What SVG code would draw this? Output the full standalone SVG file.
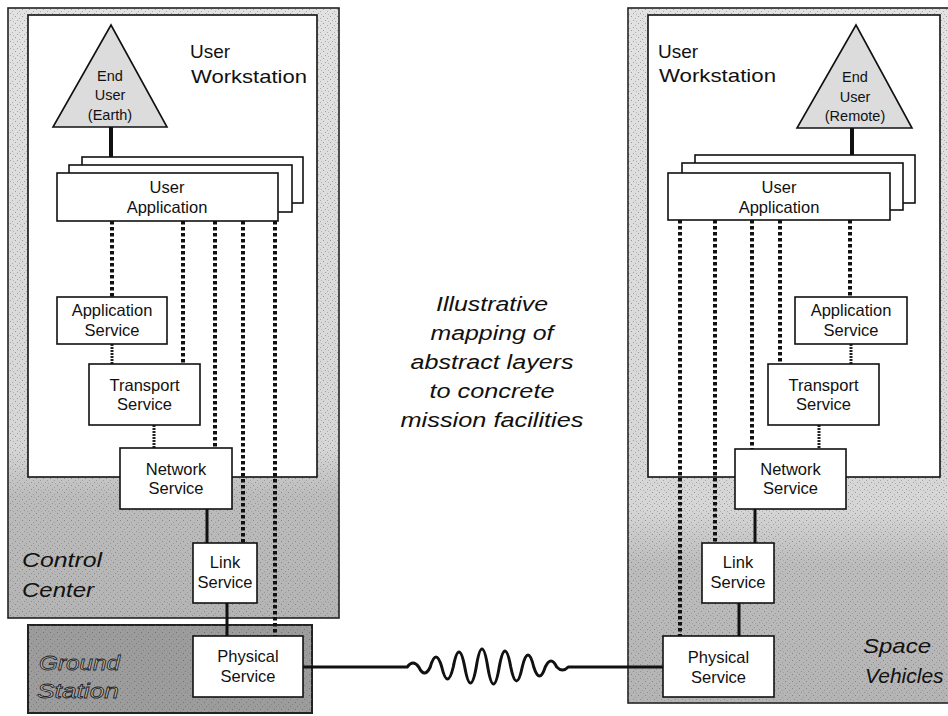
<svg xmlns="http://www.w3.org/2000/svg" width="948" height="716" viewBox="0 0 948 716">
<defs>
<style>
.box{fill:#fff;stroke:#111;stroke-width:1.6}
.tri{fill:#dcdcdc;stroke:#111;stroke-width:1.6}
.lbl{font-family:"Liberation Sans",Arial,sans-serif;font-size:16.5px;fill:#111;text-anchor:middle}
.tl{font-family:"Liberation Sans",Arial,sans-serif;font-size:14.5px;fill:#111;text-anchor:middle}
.big{font-family:"Liberation Sans",Arial,sans-serif;font-size:19px;fill:#111}
.ital{font-family:"Liberation Sans",Arial,sans-serif;font-style:italic;font-size:21px;fill:#111}
.mid{font-family:"Liberation Sans",Arial,sans-serif;font-style:italic;font-size:19.5px;fill:#111;text-anchor:middle}
.dot{stroke:#111;stroke-width:4;stroke-dasharray:3.5 2.5;fill:none}
.tex{stroke:#222;stroke-width:3;stroke-dasharray:2 1;fill:none}
.solid{stroke:#111;stroke-width:3;fill:none}
.thick{stroke:#111;stroke-width:4;fill:none}
.panel{stroke:#222;stroke-width:1.6}
</style>
<linearGradient id="gpanel" x1="0" y1="0" x2="0" y2="1">
<stop offset="0" stop-color="#e2e2e2"/>
<stop offset="0.72" stop-color="#d6d6d6"/>
<stop offset="0.8" stop-color="#bcbcbc"/>
<stop offset="1" stop-color="#b4b4b4"/>
</linearGradient>
<pattern id="stip" width="7" height="7" patternUnits="userSpaceOnUse">
<rect x="1" y="2" width="1" height="1" fill="#555"/>
<rect x="5" y="4" width="1" height="1" fill="#777"/>
<rect x="3" y="6" width="1" height="1" fill="#666"/>
<rect x="6" y="0" width="1" height="1" fill="#888"/>
</pattern>
</defs>
<rect width="948" height="716" fill="#fff"/>

<g id="control-center">
<rect class="panel" x="8" y="8" width="331" height="610" fill="url(#gpanel)"/>
<rect x="8" y="8" width="331" height="610" fill="url(#stip)" opacity="0.5"/>
<rect class="box" x="28" y="15" width="289" height="462"/>
<text class="big" x="190" y="58">User</text>
<text class="big" x="191" y="83" textLength="116" lengthAdjust="spacingAndGlyphs">Workstation</text>
<text class="ital" x="22" y="567" textLength="80" lengthAdjust="spacingAndGlyphs">Control</text>
<text class="ital" x="22" y="597" textLength="72" lengthAdjust="spacingAndGlyphs">Center</text>
</g>

<g id="ground-station">
<rect x="28" y="625" width="284" height="88" fill="#9c9c9c" stroke="#222" stroke-width="2"/>
<rect x="28" y="625" width="284" height="88" fill="url(#stip)" opacity="0.6"/>
<text class="ital" x="39" y="670" textLength="81" lengthAdjust="spacingAndGlyphs" style="fill:#bdbdbd;stroke:#222;stroke-width:0.8">Ground</text>
<text class="ital" x="37" y="698" textLength="82" lengthAdjust="spacingAndGlyphs" style="fill:#bdbdbd;stroke:#222;stroke-width:0.8">Station</text>
</g>

<g id="space-vehicle">
<rect class="panel" x="628" y="8" width="340" height="695" fill="url(#gpanel)"/>
<rect x="628" y="8" width="340" height="695" fill="url(#stip)" opacity="0.5"/>
<rect class="box" x="648" y="15" width="292" height="462"/>
<text class="big" x="658" y="58">User</text>
<text class="big" x="659" y="82" textLength="117" lengthAdjust="spacingAndGlyphs">Workstation</text>
<text class="ital" x="863" y="653" textLength="68" lengthAdjust="spacingAndGlyphs">Space</text>
<text class="ital" x="865" y="683">Vehicles</text>
</g>

<g id="caption">
<text class="mid" x="492" y="311" textLength="112" lengthAdjust="spacingAndGlyphs">Illustrative</text>
<text class="mid" x="492" y="340" textLength="123" lengthAdjust="spacingAndGlyphs">mapping of</text>
<text class="mid" x="492" y="369" textLength="163" lengthAdjust="spacingAndGlyphs">abstract layers</text>
<text class="mid" x="492" y="398" textLength="125" lengthAdjust="spacingAndGlyphs">to concrete</text>
<text class="mid" x="492" y="427" textLength="183" lengthAdjust="spacingAndGlyphs">mission facilities</text>
</g>

<g id="connectors">
<line class="thick" x1="111" y1="127" x2="111" y2="157"/>
<line class="thick" x1="852" y1="128" x2="852" y2="155"/>
<line class="dot" x1="112" y1="221" x2="112" y2="297"/>
<line class="dot" x1="183" y1="221" x2="183" y2="364"/>
<line class="dot" x1="215" y1="221" x2="215" y2="448"/>
<line class="dot" x1="243" y1="221" x2="243" y2="543"/>
<line class="dot" x1="275" y1="221" x2="275" y2="636"/>
<line class="dot" x1="680" y1="220" x2="680" y2="636"/>
<line class="dot" x1="715" y1="220" x2="715" y2="543"/>
<line class="dot" x1="752" y1="220" x2="752" y2="449"/>
<line class="dot" x1="780" y1="220" x2="780" y2="364"/>
<line class="dot" x1="850" y1="220" x2="850" y2="297"/>
<line class="tex" x1="112" y1="344" x2="112" y2="364"/>
<line class="tex" x1="154" y1="425" x2="154" y2="448"/>
<line class="solid" x1="207" y1="509" x2="207" y2="543"/>
<line class="solid" x1="227" y1="603" x2="227" y2="636"/>
<line class="tex" x1="851" y1="344" x2="851" y2="364"/>
<line class="tex" x1="819" y1="425" x2="819" y2="449"/>
<line class="solid" x1="755" y1="509" x2="755" y2="543"/>
<line class="solid" x1="739" y1="603" x2="739" y2="636"/>
<path class="solid" stroke-linejoin="round" d="M303 667 L407.25 667 Q413 659 418.75 667 Q424.5 679 430.25 667 Q436 647 441.75 667 Q447.5 691 453.25 667 Q459 637 464.75 667 Q470.5 699 476.25 667 Q482 631 487.75 667 Q493.5 701 499.25 667 Q505 635 510.75 667 Q516.5 695 522.25 667 Q528 643 533.75 667 Q539.5 685 545.25 667 Q551 655 556.75 667 Q562.5 673 568.25 667 L663 667"/>
</g>

<g id="end-user-earth">
<polygon class="tri" points="111,25 53,127 167,127"/>
<text class="tl" x="110" y="81">End</text>
<text class="tl" x="110" y="100">User</text>
<text class="tl" x="110" y="120">(Earth)</text>
</g>
<g id="user-application-left">
<rect class="box" x="82" y="157" width="221" height="46"/>
<rect class="box" x="69" y="165" width="223" height="47"/>
<rect class="box" x="57" y="173" width="221" height="48"/>
<text class="lbl" x="167" y="193">User</text>
<text class="lbl" x="167" y="213">Application</text>
</g>
<g id="application-service-left">
<rect class="box" x="57" y="297" width="110" height="47"/>
<text class="lbl" x="112" y="316">Application</text>
<text class="lbl" x="112" y="336">Service</text>
</g>
<g id="transport-service-left">
<rect class="box" x="89" y="364" width="111" height="61"/>
<text class="lbl" x="144.5" y="391">Transport</text>
<text class="lbl" x="144.5" y="410">Service</text>
</g>
<g id="network-service-left">
<rect class="box" x="120" y="448" width="112" height="61"/>
<text class="lbl" x="176" y="475">Network</text>
<text class="lbl" x="176" y="494">Service</text>
</g>
<g id="link-service-left">
<rect class="box" x="193" y="543" width="64" height="60"/>
<text class="lbl" x="225" y="568">Link</text>
<text class="lbl" x="225" y="588">Service</text>
</g>
<g id="physical-service-left">
<rect class="box" x="193" y="636" width="110" height="61"/>
<text class="lbl" x="248" y="662">Physical</text>
<text class="lbl" x="248" y="682">Service</text>
</g>

<g id="end-user-remote">
<polygon class="tri" points="856,25 797,128 912,128"/>
<text class="tl" x="855" y="82">End</text>
<text class="tl" x="855" y="102">User</text>
<text class="tl" x="855" y="121">(Remote)</text>
</g>
<g id="user-application-right">
<rect class="box" x="695" y="155" width="220" height="48"/>
<rect class="box" x="682" y="163" width="221" height="47"/>
<rect class="box" x="668" y="173" width="222" height="47"/>
<text class="lbl" x="779" y="193">User</text>
<text class="lbl" x="779" y="213">Application</text>
</g>
<g id="application-service-right">
<rect class="box" x="795" y="297" width="112" height="47"/>
<text class="lbl" x="851" y="316">Application</text>
<text class="lbl" x="851" y="336">Service</text>
</g>
<g id="transport-service-right">
<rect class="box" x="768" y="364" width="111" height="61"/>
<text class="lbl" x="823.5" y="391">Transport</text>
<text class="lbl" x="823.5" y="410">Service</text>
</g>
<g id="network-service-right">
<rect class="box" x="735" y="449" width="111" height="60"/>
<text class="lbl" x="790.5" y="475">Network</text>
<text class="lbl" x="790.5" y="494">Service</text>
</g>
<g id="link-service-right">
<rect class="box" x="702" y="543" width="72" height="60"/>
<text class="lbl" x="738" y="568">Link</text>
<text class="lbl" x="738" y="588">Service</text>
</g>
<g id="physical-service-right">
<rect class="box" x="663" y="636" width="111" height="61"/>
<text class="lbl" x="718.5" y="663">Physical</text>
<text class="lbl" x="718.5" y="683">Service</text>
</g>
</svg>
